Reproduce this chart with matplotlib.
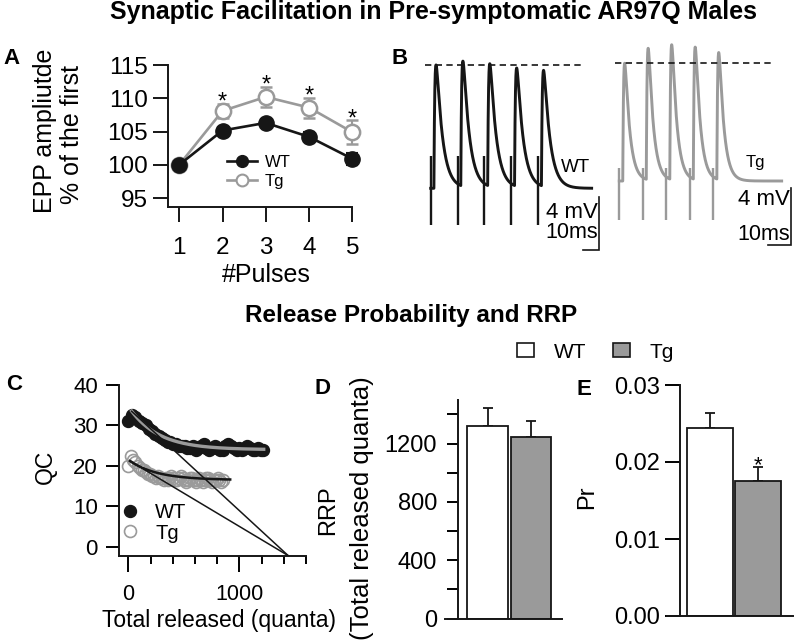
import numpy as np
import matplotlib
matplotlib.use("Agg")
import matplotlib.pyplot as plt
from matplotlib.lines import Line2D
from matplotlib.patches import Patch

plt.rcParams["font.family"] = ["Liberation Sans", "DejaVu Sans"]

# ======================= DATA =======================
# Panel A : facilitation (% of first EPP)
pulses = [1, 2, 3, 4, 5]
wt_facil = [100.0, 105.15, 106.3, 104.2, 100.9]
wt_facil_err = [0.0, 0.5, 0.6, 0.7, 0.9]
tg_facil = [100.0, 108.1, 110.2, 108.6, 104.9]
tg_facil_err = [0.0, 1.1, 1.5, 1.5, 1.8]
sig_pulses = [2, 3, 4, 5]

# Panel B : example EPP trains (ms, mV above baseline)
wt_stim_ms = [0.0, 16.8, 33.6, 50.4, 67.2]
wt_epp_mv = [9.31, 9.45, 9.25, 8.93, 8.76]
tg_stim_ms = [0.0, 10.5, 21.0, 31.5, 42.0]
tg_epp_mv = [8.31, 9.28, 9.52, 9.35, 8.97]
wt_kinetics = dict(latency=2.0, tau_rise=0.6, tau_decay=3.9)
tg_kinetics = dict(latency=1.55, tau_rise=0.4, tau_decay=2.2)
wt_artifact_mv = (-2.77, 2.4)
tg_artifact_mv = (-2.75, 0.9)
wt_record_ms = 100.6
tg_record_ms = 72.5

# Panel C : quantal content during the train
wt_qc = [31, 32.5, 32, 31, 30.5, 30, 29, 28.5, 28, 27.5, 27, 26.5,
         26, 26, 25.5, 25.5, 25, 25, 25, 24.5, 24.5, 25,
         24, 24.5, 25, 25.5, 24.5, 24, 24.5, 25, 24.5, 24,
         24, 25, 25.5, 25, 24.5, 24, 24.5, 24, 24.5, 25,
         24.5, 24, 24, 24.5, 24, 24]
tg_qc = [20, 22.5, 21.5, 21, 20, 19.5, 19, 19, 18.5, 18,
         18, 17.5, 17.5, 17, 17.5, 17, 17, 16.5, 17, 16.5,
         17, 17.5, 17, 16.5, 16.5, 17, 17.5, 17, 16.5, 16,
         16.5, 17, 17, 16.5, 16, 16.5, 17, 16.5, 16, 16.5,
         17, 17, 16.5, 16, 16.5, 16.5, 17, 16.5, 16, 16.5]
wt_fit = (24.0, 10.7, 260.0)      # plateau, amplitude, decay (quanta)
tg_fit = (16.5, 5.0, 250.0)
wt_fit_range = (30, 1220)
tg_fit_range = (15, 918)
wt_extrap_x = [30, 1440]
wt_extrap_y = [33.5, -2.2]
tg_extrap_x = [15, 1440]
tg_extrap_y = [21.2, -2.2]

# Panels D, E
groups = ["WT", "Tg"]
rrp = [1323, 1243]
rrp_err = [124, 115]
pr = [0.02445, 0.01753]
pr_err = [0.00187, 0.00178]

# ======================= STYLE / LAYOUT =======================
BLACK = "#161616"
GRAY = "#9a9a9a"
W, H = 800, 644
fig = plt.figure(figsize=(W / 100, H / 100), dpi=100)


def add_px_axes(x0, y0, x1, y1):
    return fig.add_axes([x0 / W, 1 - y1 / H, (x1 - x0) / W, (y1 - y0) / H])


def ftext(x, y, s, **kw):
    return fig.text(x / W, 1 - y / H, s, **kw)


def style_axes(ax, lw=1.4):
    for s in ("top", "right"):
        ax.spines[s].set_visible(False)
    for s in ("left", "bottom"):
        ax.spines[s].set_linewidth(lw)
        ax.spines[s].set_color(BLACK)


# ---- titles ----
ftext(433, 19.5, "Synaptic Facilitation in Pre-symptomatic AR97Q Males",
      ha="center", va="baseline", fontsize=18, fontweight="bold")
ftext(411, 322, "Release Probability and RRP",
      ha="center", va="baseline", fontsize=17.5, fontweight="bold")
for lab, x, y in [("A", 11, 64), ("B", 400, 64), ("C", 14, 390),
                  ("D", 323, 394), ("E", 584, 395)]:
    ftext(x, y, lab, ha="center", va="baseline", fontsize=16, fontweight="bold")

# ======================= PANEL A =======================
axA = add_px_axes(168, 65, 352.3, 207)
style_axes(axA)
axA.set_xlim(0.74, 5.0)
axA.set_ylim(93.65, 115)
eb_tg = axA.errorbar(pulses, tg_facil, yerr=tg_facil_err, color=GRAY, lw=1.9,
                     marker="o", ms=11, mfc="white", mec=GRAY, mew=1.8,
                     capsize=4, elinewidth=1.5, capthick=1.5, zorder=3)
eb_wt = axA.errorbar(pulses, wt_facil, yerr=wt_facil_err, color=BLACK, lw=1.9,
                     marker="o", ms=11, mfc=BLACK, mec=BLACK,
                     capsize=4, elinewidth=1.5, capthick=1.5, zorder=4)
for eb in (eb_tg, eb_wt):
    for art in eb.get_children():
        art.set_clip_on(False)
for p in sig_pulses:
    i = pulses.index(p)
    axA.annotate("*", xy=(p, tg_facil[i] + tg_facil_err[i]), xytext=(0, -3.5),
                 textcoords="offset points", ha="center", va="baseline",
                 fontsize=17, annotation_clip=False)
axA.set_xticks(pulses)
axA.set_yticks([95, 100, 105, 110, 115])
axA.tick_params(axis="x", length=11, width=1.4, pad=10.5, labelsize=17.5, color=BLACK)
axA.tick_params(axis="y", length=10.5, width=1.4, pad=4, labelsize=17.5, color=BLACK)
ftext(266, 275, "#Pulses", ha="center", va="center", fontsize=18)
ftext(45, 131, "EPP ampliutde", ha="center", va="center", rotation=90, fontsize=18)
ftext(72, 134, "% of the first", ha="center", va="center", rotation=90, fontsize=18)
legA = [Line2D([], [], color=BLACK, lw=1.9, marker="o", ms=8.5, mfc=BLACK, mec=BLACK),
        Line2D([], [], color=GRAY, lw=1.9, marker="o", ms=8.5, mfc="white", mec=GRAY, mew=1.5)]
axA.legend(legA, groups, loc="center left", bbox_to_anchor=(227 / W, 1 - 172 / H),
           bbox_transform=fig.transFigure, frameon=False, fontsize=12,
           handlelength=1.8, handletextpad=0.45, labelspacing=0.2,
           borderpad=0, borderaxespad=0)

# ======================= PANEL B =======================


def epp_train(t, stims, amps, latency, tau_rise, tau_decay):
    tpk = np.log(tau_decay / tau_rise) * tau_rise * tau_decay / (tau_decay - tau_rise)
    norm = np.exp(-tpk / tau_decay) - np.exp(-tpk / tau_rise)
    v = np.zeros_like(t)
    for s, a in zip(stims, amps):
        d = t - s - latency
        m = d > 0
        v[m] += a * (np.exp(-d[m] / tau_decay) - np.exp(-d[m] / tau_rise)) / norm
    return v


def trace_panel(box, t0_px, px_per_ms, base_px, px_per_mv, stims, amps, kin,
                artifact, t_end, color, dash_ms, bar_corner, label, label_xy,
                label_size, scale_txt_x, scale_txt_y):
    ax = add_px_axes(*box)
    ax.set_xlim((box[0] - t0_px) / px_per_ms, (box[2] - t0_px) / px_per_ms)
    ax.set_ylim((base_px - box[3]) / px_per_mv, (base_px - box[1]) / px_per_mv)
    ax.axis("off")
    t = np.arange(0, t_end, 0.02)
    v = epp_train(t, stims, amps, **kin)
    ax.plot(t, v, color=color, lw=2.1, solid_joinstyle="round", clip_on=False)
    ax.vlines(stims, artifact[0], artifact[1], color=color, lw=1.7, clip_on=False)
    ax.plot(dash_ms, [amps[0], amps[0]], color=BLACK, lw=1.2,
            ls=(0, (3.8, 2.6)), clip_on=False)
    cx, cy = bar_corner
    ax.plot([cx - 10, cx, cx], [cy, cy, cy + 4], color=BLACK, lw=1.2,
            solid_joinstyle="miter", clip_on=False)
    ftext(label_xy[0], label_xy[1], label, ha="left", va="center", fontsize=label_size)
    ftext(scale_txt_x, scale_txt_y[0], "4 mV", ha="right", va="center", fontsize=16)
    ftext(scale_txt_x, scale_txt_y[1], "10ms", ha="right", va="center", fontsize=15.5)
    return ax


trace_panel((415, 35, 605, 262), 430.7, 1.6, 188.3, 13.25, wt_stim_ms, wt_epp_mv,
            wt_kinetics, wt_artifact_mv, wt_record_ms, BLACK, [-3.6, 94.6],
            (105.4, -4.66), "WT", (561, 167), 13.5, 598, (213, 233))
trace_panel((605, 30, 800, 262), 619.3, 2.24, 181.0, 14.17, tg_stim_ms, tg_epp_mv,
            tg_kinetics, tg_artifact_mv, tg_record_ms, GRAY, [-1.9, 68.2],
            (76.5, -4.52), "Tg", (746, 162), 12, 790, (200, 234))

# ======================= PANEL C =======================
axC = add_px_axes(118.5, 385, 306, 555.7)
style_axes(axC)
axC.set_xlim((118.5 - 128.3) / 0.111, (306 - 128.3) / 0.111)
axC.set_ylim((546.7 - 555.7) / 4.0425, 40)
wt_x = np.concatenate([[0], np.cumsum(wt_qc)[:-1]])
tg_x = np.concatenate([[0], np.cumsum(tg_qc)[:-1]])
axC.plot(wt_x, wt_qc, ls="none", marker="o", ms=8.6, color=BLACK, zorder=2)
axC.plot(tg_x, tg_qc, ls="none", marker="o", ms=8.6, mfc="none", mec=GRAY,
         mew=1.2, zorder=2)
xf = np.linspace(*wt_fit_range, 200)
axC.plot(xf, wt_fit[0] + wt_fit[1] * np.exp(-xf / wt_fit[2]), color=GRAY, lw=2.4, zorder=3)
xf = np.linspace(*tg_fit_range, 200)
axC.plot(xf, tg_fit[0] + tg_fit[1] * np.exp(-xf / tg_fit[2]), color=BLACK, lw=1.8, zorder=3)
axC.plot(wt_extrap_x, wt_extrap_y, color=BLACK, lw=1.1, zorder=4)
axC.plot(tg_extrap_x, tg_extrap_y, color=BLACK, lw=1.1, zorder=4)
axC.set_xticks([0, 1000])
axC.set_xticks([200, 400, 600, 800, 1200, 1400, 1600], minor=True)
axC.set_yticks([0, 10, 20, 30, 40])
axC.tick_params(axis="x", which="major", length=11.5, width=1.4, pad=9, labelsize=15.5)
axC.tick_params(axis="x", which="minor", length=6, width=1.4)
axC.tick_params(axis="y", length=9.4, width=1.4, pad=5.5, labelsize=16)
ftext(219, 620, "Total released (quanta)", ha="center", va="center", fontsize=16.5)
ftext(45, 467, "QC", ha="center", va="center", rotation=90, fontsize=16.5)
legC = [Line2D([], [], ls="none", marker="o", ms=8.6, color=BLACK),
        Line2D([], [], ls="none", marker="o", ms=8.6, mfc="none", mec=GRAY, mew=1.2)]
axC.legend(legC, groups, loc="center left", bbox_to_anchor=(120 / W, 1 - 523 / H),
           bbox_transform=fig.transFigure, frameon=False, fontsize=14.5,
           handlelength=1.0, handletextpad=0.75, labelspacing=0.05,
           borderpad=0, borderaxespad=0)

# ======================= PANEL D =======================
axD = add_px_axes(445, 399.8, 562, 618.5)
style_axes(axD)
d0, dppu = 487.5, 43.5
axD.set_xlim((445 - d0) / dppu, (562 - d0) / dppu)
axD.set_ylim(0, 1500)
axD.spines["left"].set_position(("data", (458 - d0) / dppu))
xpos = np.arange(len(groups))
axD.bar(xpos, rrp, width=0.94, color=["white", GRAY], edgecolor=BLACK, lw=1.3, zorder=2)
axD.errorbar(xpos, rrp, yerr=[[0, 0], rrp_err], fmt="none", ecolor=BLACK,
             elinewidth=1.3, capsize=3.5, capthick=1.3, zorder=1)
axD.set_yticks([0, 400, 800, 1200])
axD.set_yticks([200, 600, 1000, 1400], minor=True)
axD.tick_params(axis="y", which="both", length=8, width=1.4, pad=7, labelsize=17)
axD.tick_params(axis="x", bottom=False, labelbottom=False)
ftext(328, 510, "RRP", ha="center", va="center", rotation=90, fontsize=17)
ftext(362, 508, "(Total released quanta)", ha="center", va="center", rotation=90, fontsize=18.5)

# ======================= PANEL E =======================
axE = add_px_axes(667, 385, 793, 616)
style_axes(axE)
e0, eppu = 710, 48
axE.set_xlim((667 - e0) / eppu, (793 - e0) / eppu)
axE.set_ylim(0, 0.03)
axE.spines["left"].set_position(("data", (680 - e0) / eppu))
axE.bar(xpos, pr, width=0.958, color=["white", GRAY], edgecolor=BLACK, lw=1.3, zorder=2)
axE.errorbar(xpos, pr, yerr=[[0, 0], pr_err], fmt="none", ecolor=BLACK,
             elinewidth=1.3, capsize=3.5, capthick=1.3, zorder=1)
axE.annotate("*", xy=(1, pr[1] + pr_err[1]), xytext=(0, -2.5),
             textcoords="offset points", ha="center", va="baseline", fontsize=16)
axE.set_yticks([0, 0.01, 0.02, 0.03])
axE.set_yticklabels(["0.00", "0.01", "0.02", "0.03"])
axE.tick_params(axis="y", length=11, width=1.4, pad=3.6, labelsize=17)
axE.tick_params(axis="x", bottom=False, labelbottom=False)
ftext(587, 497, "Pr", ha="center", va="center", rotation=90, fontsize=17)

legDE = [Patch(facecolor="white", edgecolor=BLACK, lw=1.2),
         Patch(facecolor=GRAY, edgecolor=BLACK, lw=1.2)]
fig.legend(legDE, groups, loc="center left", bbox_to_anchor=(517 / W, 1 - 352 / H),
           ncol=2, frameon=False, fontsize=15, handlelength=0.8, handleheight=0.65,
           handletextpad=0.95, columnspacing=1.3, borderpad=0, borderaxespad=0)

fig.savefig("out.png", dpi=100)
